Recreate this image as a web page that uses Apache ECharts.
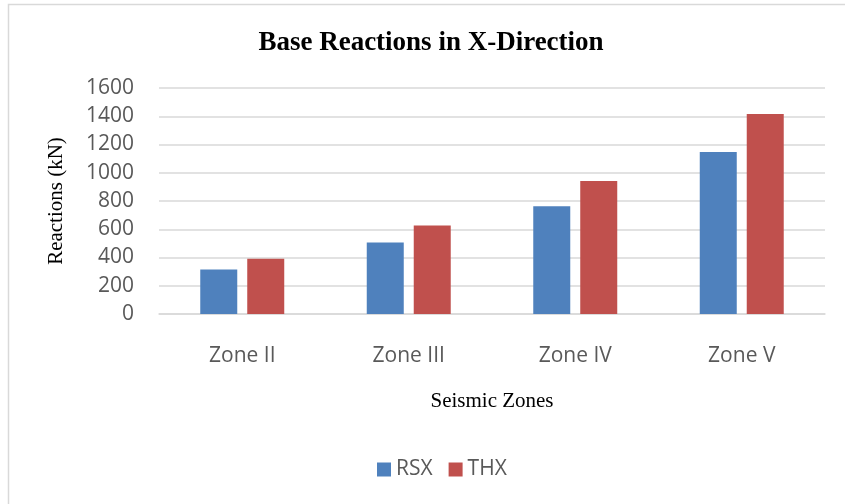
<!DOCTYPE html>
<html>
<head>
<meta charset="utf-8">
<script src="https://cdn.jsdelivr.net/npm/echarts@6/dist/echarts.min.js"></script>
<style>html,body{margin:0;padding:0;background:#fff;}#c{width:845px;height:504px;}</style>
</head>
<body>
<div id="c"></div>
<script>
const categories = ['Zone II', 'Zone III', 'Zone IV', 'Zone V'];
const rsx = [315, 507, 762, 1147];
const thx = [391, 627, 941, 1416];
const yTicks = { min: 0, max: 1600, interval: 200 };

const chart = echarts.init(document.getElementById('c'), null, { renderer: 'canvas' });
chart.setOption({
  backgroundColor: '#ffffff',
  animation: false,
  graphic: [
    { type: 'rect', shape: { x: 8.5, y: 4.5, width: 900, height: 600 }, style: { fill: 'none', stroke: '#d9d9d9', lineWidth: 1.5 }, silent: true },
    { type: 'text', x: 431, y: 43, style: { text: 'Base Reactions in X-Direction', font: 'bold 27px "Liberation Serif"', fill: '#000', align: 'center', verticalAlign: 'middle' } }
  ],
  legend: {
    bottom: 19,
    left: 372,
    itemWidth: 14,
    itemHeight: 14,
    itemGap: 16,
    icon: 'rect',
    textStyle: { fontFamily: 'Open Sans', fontSize: 21, color: '#595959' },
    data: ['RSX', 'THX']
  },
  grid: { left: 159, right: 20, top: 88, bottom: 190, containLabel: false },
  xAxis: {
    type: 'category',
    data: categories,
    axisLine: { lineStyle: { color: '#d9d9d9', width: 1.5 } },
    axisTick: { show: false },
    axisLabel: { fontFamily: 'Open Sans', fontSize: 21, color: '#595959', margin: 32 },
    name: 'Seismic Zones',
    nameLocation: 'middle',
    nameGap: 77,
    nameTextStyle: { fontFamily: 'Liberation Serif', fontSize: 21, color: '#000' }
  },
  yAxis: {
    type: 'value',
    min: yTicks.min, max: yTicks.max, interval: yTicks.interval,
    axisLine: { show: false },
    axisTick: { show: false },
    splitLine: { lineStyle: { color: '#d9d9d9', width: 1.5 } },
    axisLabel: { fontFamily: 'Open Sans', fontSize: 21, color: '#595959', margin: 25, formatter: (v) => String(v) },
    name: 'Reactions (kN)',
    nameLocation: 'middle',
    nameRotate: 90,
    nameGap: 92,
    nameTextStyle: { fontFamily: 'Liberation Serif', fontSize: 21, color: '#000' }
  },
  series: [
    { name: 'RSX', type: 'bar', data: rsx, barWidth: 37, barGap: '27%', itemStyle: { color: '#4f81bd' } },
    { name: 'THX', type: 'bar', data: thx, barWidth: 37, barGap: '27%', itemStyle: { color: '#c0504d' } }
  ]
});
</script>
</body>
</html>
